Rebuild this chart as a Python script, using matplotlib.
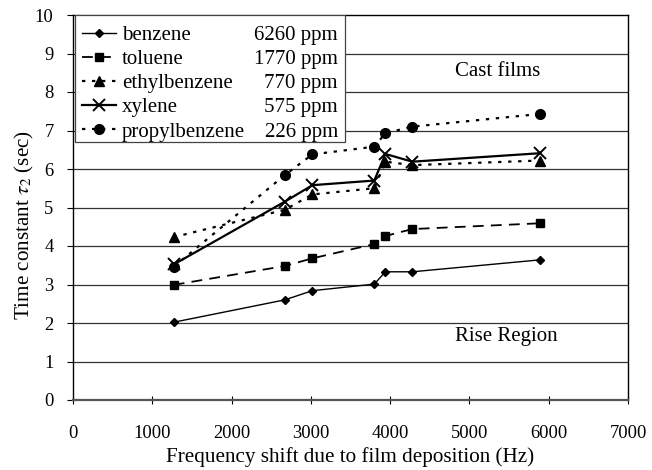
import matplotlib
matplotlib.use("Agg")
import matplotlib.pyplot as plt
from matplotlib.patches import Rectangle

plt.rcParams['font.family'] = ['Liberation Serif', 'DejaVu Serif']
plt.rcParams['mathtext.fontset'] = 'stix'

freq = [1270, 2670, 3020, 3800, 3940, 4280, 5890]
names = ["benzene", "toluene", "ethylbenzene", "xylene", "propylbenzene"]
ppm = ["6260 ppm", "1770 ppm", "770 ppm", "575 ppm", "226 ppm"]
benzene = [2.02, 2.60, 2.84, 3.01, 3.33, 3.33, 3.64]
toluene = [2.99, 3.48, 3.68, 4.05, 4.26, 4.44, 4.59]
ethylbenzene = [4.23, 4.94, 5.34, 5.50, 6.19, 6.10, 6.22]
xylene = [3.52, 5.15, 5.58, 5.70, 6.39, 6.19, 6.41]
propylbenzene = [3.46, 5.84, 6.38, 6.58, 6.93, 7.10, 7.43]
series = [benzene, toluene, ethylbenzene, xylene, propylbenzene]
xticks = [0, 1000, 2000, 3000, 4000, 5000, 6000, 7000]
yticks = list(range(0, 11))

styles = [
    dict(ls='-', lw=1.0, marker='D', ms=4.5),
    dict(ls=(0, (6, 4)), lw=1.3, marker='s', ms=6),
    dict(ls=(0, (1.5, 3)), lw=1.6, marker='^', ms=7),
    dict(ls='-', lw=1.6, marker='x', ms=8, mew=1.4),
    dict(ls=(0, (1.5, 3)), lw=1.6, marker='o', ms=7),
]

FS_TXT = 15
FS_LAB = 15.2
FS_TICK = 13.3

fig = plt.figure(figsize=(6.52, 4.70), dpi=100)
ax = fig.add_axes([73/652, 1-400/470, 555/652, 385/470])

for y in yticks[1:-1]:
    ax.axhline(y, color='#333333', lw=0.9, zorder=1)

handles = []
for name, vals, st in zip(names, series, styles):
    h, = ax.plot(freq, vals, color='black', zorder=3, **st)
    handles.append(h)

ax.set_xlim(0, 7000)
ax.set_ylim(0, 10)
ax.set_xticks(xticks)
ax.set_yticks(yticks)
ax.tick_params(axis='x', direction='inout', length=6, width=0.8, labelsize=FS_TICK, pad=15)
ax.tick_params(axis='y', direction='out', length=4, width=0.8, labelsize=FS_TICK, pad=10)
for s in ['top', 'right', 'left']:
    ax.spines[s].set_linewidth(1.0)
ax.spines['bottom'].set_color('#555555')
ax.spines['bottom'].set_linewidth(1.6)

ax.set_xlabel("Frequency shift due to film deposition (Hz)", fontsize=FS_LAB, labelpad=4)
ax.set_ylabel(r"Time constant $\tau_2$ (sec)", fontsize=FS_LAB)
ax.yaxis.set_label_coords(-0.066, 0.455)

ax.text(5350, 8.52, "Cast films", fontsize=FS_TXT, ha='center', va='center')
ax.text(5460, 1.66, "Rise Region", fontsize=FS_TXT, ha='center', va='center')

leg = ax.legend(handles, names, loc='upper left', bbox_to_anchor=(0.016, 0.973),
                frameon=False, fontsize=FS_TXT, handlelength=1.63, handletextpad=0.3,
                labelspacing=0.22, borderpad=0, borderaxespad=0)
leg.set_zorder(5)

# legend frame
ax.add_patch(Rectangle(((75-73)/555, 1-(142-15)/385), (345-75)/555, (142-15)/385,
                       transform=ax.transAxes, fill=True, facecolor='white',
                       edgecolor='#444444', lw=0.9, zorder=4))

fig.canvas.draw()
inv = fig.transFigure.inverted()
for t, p in zip(leg.get_texts(), ppm):
    bb = t.get_window_extent()
    fx, fy = inv.transform((338, bb.y0))
    fig.text(338/652, fy, p, ha='right', va='bottom', fontsize=FS_TXT, zorder=6)

fig.savefig("out.png", dpi=100)
